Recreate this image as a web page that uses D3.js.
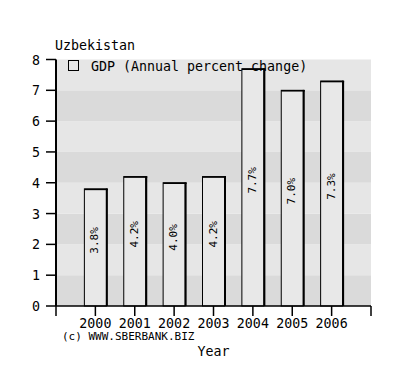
<!DOCTYPE html>
<html>
<head>
<meta charset="utf-8">
<script src="https://cdn.jsdelivr.net/npm/d3@7/dist/d3.min.js"></script>
<style>
  html, body { margin: 0; padding: 0; background: #fff; }
  text { font-family: "DejaVu Sans Mono", monospace; fill: #000; }
</style>
</head>
<body>
<svg id="chart" width="397" height="383"></svg>
<script>
const years = [2000, 2001, 2002, 2003, 2004, 2005, 2006];
const gdp = [3.8, 4.2, 4.0, 4.2, 7.7, 7.0, 7.3];
const valueLabels = ["3.8%", "4.2%", "4.0%", "4.2%", "7.7%", "7.0%", "7.3%"];
const yTicks = [0, 1, 2, 3, 4, 5, 6, 7, 8];
const xTickYears = [1999, 2000, 2001, 2002, 2003, 2004, 2005, 2006, 2007];
const title = "Uzbekistan";
const legendLabel = "GDP (Annual percent change)";
const xTitle = "Year";
const credit = "(c) WWW.SBERBANK.BIZ";

const svg = d3.select("#chart");
const pLeft = 56, pRight = 371, pTop = 59.5, pBottom = 306;

const x = d3.scaleLinear().domain([1999, 2007]).range([pLeft, pRight]);
const y = d3.scaleLinear().domain([0, 8]).range([pBottom, pTop]);

// background bands
const bands = d3.range(0, 8);
svg.append("g").selectAll("rect").data(bands).join("rect")
  .attr("x", pLeft).attr("width", pRight - pLeft)
  .attr("y", d => y(d + 1)).attr("height", d => y(d) - y(d + 1))
  .attr("fill", d => d % 2 === 0 ? "#dadada" : "#e6e6e6");

// bars
const barW = 22;
const bars = svg.append("g");
bars.selectAll("rect").data(years).join("rect")
  .attr("x", (d) => x(d) - barW / 2)
  .attr("y", (d, i) => y(gdp[i]))
  .attr("width", barW)
  .attr("height", (d, i) => y(0) - y(gdp[i]))
  .attr("fill", "#e8e8e8")
  .attr("stroke", "#000")
  .attr("stroke-width", 1);
// thick right edge
bars.selectAll("line.r").data(years).join("line")
  .attr("class", "r")
  .attr("x1", d => x(d) + barW / 2 + 0.5).attr("x2", d => x(d) + barW / 2 + 0.5)
  .attr("y1", (d, i) => y(gdp[i]) - 0.5).attr("y2", y(0))
  .attr("stroke", "#000").attr("stroke-width", 2);
// thick top edge
bars.selectAll("line.t").data(years).join("line")
  .attr("class", "t")
  .attr("x1", d => x(d) - barW / 2).attr("x2", d => x(d) + barW / 2 + 1.5)
  .attr("y1", (d, i) => y(gdp[i]) + 0.5).attr("y2", (d, i) => y(gdp[i]) + 0.5)
  .attr("stroke", "#000").attr("stroke-width", 1.5);

// value labels (rotated)
svg.append("g").selectAll("text").data(years).join("text")
  .attr("transform", (d, i) => `translate(${x(d) + 3},${y(gdp[i] / 2) - 7}) rotate(-90)`)
  .attr("text-anchor", "middle")
  .attr("font-size", 11)
  .text((d, i) => valueLabels[i]);

// y axis
const yAxis = svg.append("g");
yAxis.append("line").attr("x1", pLeft).attr("x2", pLeft).attr("y1", pTop).attr("y2", pBottom)
  .attr("stroke", "#000").attr("stroke-width", 2);
yAxis.selectAll("line.tick").data(yTicks).join("line").attr("class", "tick")
  .attr("x1", pLeft - 10).attr("x2", pLeft).attr("y1", d => y(d)).attr("y2", d => y(d))
  .attr("stroke", "#000").attr("stroke-width", 1.5);
yAxis.selectAll("text").data(yTicks).join("text")
  .attr("x", 40).attr("y", d => y(d) + 5)
  .attr("text-anchor", "end").attr("font-size", 13.3)
  .text(d => d);

// x axis
const xAxis = svg.append("g");
xAxis.append("line").attr("x1", pLeft).attr("x2", pRight).attr("y1", pBottom).attr("y2", pBottom)
  .attr("stroke", "#000").attr("stroke-width", 1.5);
xAxis.selectAll("line.tick").data(xTickYears).join("line").attr("class", "tick")
  .attr("x1", d => x(d)).attr("x2", d => x(d)).attr("y1", pBottom).attr("y2", pBottom + 10)
  .attr("stroke", "#000").attr("stroke-width", 1.5);
xAxis.selectAll("text").data(years).join("text")
  .attr("x", d => x(d)).attr("y", 328)
  .attr("text-anchor", "middle").attr("font-size", 13.3)
  .text(d => d);

// title
svg.append("text").attr("x", 55).attr("y", 50).attr("font-size", 13.3).text(title);

// legend
svg.append("rect").attr("x", 68.5).attr("y", 60.5).attr("width", 10).attr("height", 10)
  .attr("fill", "#e8e8e8").attr("stroke", "#000").attr("stroke-width", 1);
svg.append("text").attr("x", 91).attr("y", 71).attr("font-size", 13.3).text(legendLabel);

// credit & axis title
svg.append("text").attr("x", 62).attr("y", 340).attr("font-size", 11).text(credit);
svg.append("text").attr("x", (pLeft + pRight) / 2).attr("y", 356)
  .attr("text-anchor", "middle").attr("font-size", 13.3).text(xTitle);
</script>
</body>
</html>
